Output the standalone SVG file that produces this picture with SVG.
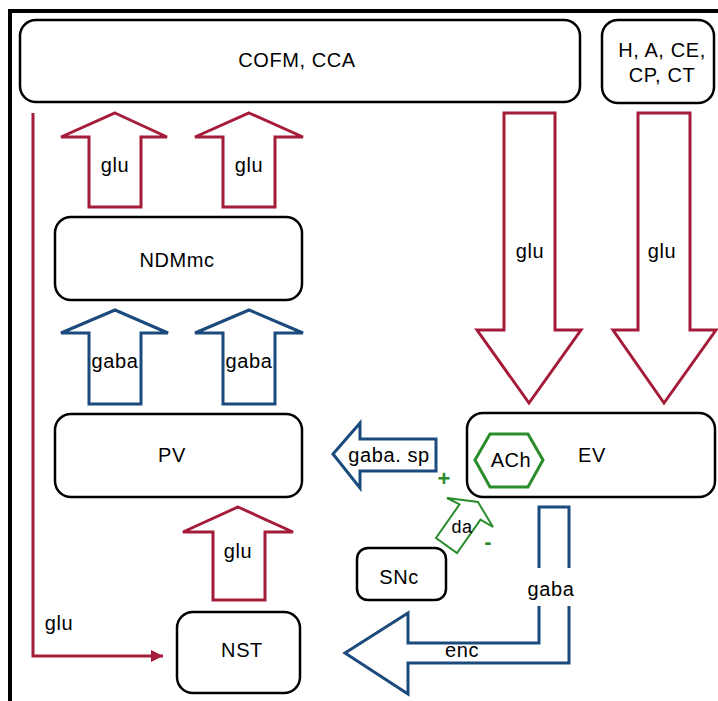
<svg xmlns="http://www.w3.org/2000/svg" width="718" height="701" viewBox="0 0 718 701">
  <style>
    .box { fill: #ffffff; stroke: #000000; stroke-width: 2.5; }
    .lbl { font-family: "Liberation Sans", Arial, sans-serif; font-size: 20px; letter-spacing: 0.6px; fill: #000000; text-anchor: middle; }
    .glu { fill: #ffffff; stroke: #a51c3a; stroke-width: 3; stroke-linejoin: miter; }
    .gaba { fill: #ffffff; stroke: #1b4a7c; stroke-width: 3; stroke-linejoin: miter; }
    .da { fill: #ffffff; stroke: #2b8c2b; stroke-width: 2; }
    .sign { font-family: "Liberation Sans", Arial, sans-serif; font-weight: bold; fill: #2b8c2b; text-anchor: middle; }
  </style>
  <defs>
    <marker id="redHead" viewBox="0 0 10 10" refX="10" refY="5" markerWidth="4.5" markerHeight="4" markerUnits="strokeWidth" orient="auto">
      <path d="M0,0 L10,5 L0,10 Z" fill="#a51c3a"/>
    </marker>
  </defs>

  <rect width="718" height="701" fill="#ffffff"/>
  <!-- frame -->
  <path d="M10,701 V11 H718" fill="none" stroke="#000000" stroke-width="4"/>

  <g id="connectors">
    <!-- long glu line to NST -->
    <path d="M33,113 V656 H163" fill="none" stroke="#a51c3a" stroke-width="3" marker-end="url(#redHead)"/>
    <text class="lbl" x="59" y="630">glu</text>

    <!-- NDMmc -> cortex -->
    <g id="glu-up-1">
      <polygon class="glu" points="115,113 167,137 141,137 141,207 89,207 89,137 61,137"/>
      <text class="lbl" x="115" y="172">glu</text>
    </g>
    <g id="glu-up-2">
      <polygon class="glu" points="249,113 303,137 275,137 275,207 223,207 223,137 195,137"/>
      <text class="lbl" x="249" y="172">glu</text>
    </g>

    <!-- PV -> NDMmc -->
    <g id="gaba-up-1">
      <polygon class="gaba" points="115,310 168,333 141,333 141,404 89,404 89,333 61,333"/>
      <text class="lbl" x="115" y="368">gaba</text>
    </g>
    <g id="gaba-up-2">
      <polygon class="gaba" points="249,310 303,333 275,333 275,404 223,404 223,333 195,333"/>
      <text class="lbl" x="249" y="368">gaba</text>
    </g>

    <!-- NST -> PV -->
    <g id="glu-nst-pv">
      <polygon class="glu" points="238,507 293,532 265,532 265,600 213,600 213,532 183,532"/>
      <text class="lbl" x="238" y="558">glu</text>
    </g>

    <!-- cortex / thalamus -> EV -->
    <g id="glu-down-1">
      <polygon class="glu" points="504,113 555,113 555,330 581,330 529,403 477,330 504,330"/>
      <text class="lbl" x="530" y="258">glu</text>
    </g>
    <g id="glu-down-2">
      <polygon class="glu" points="638,113 690,113 690,330 716,330 664,403 613,330 638,330"/>
      <text class="lbl" x="662" y="258">glu</text>
    </g>

    <!-- EV -> PV -->
    <g id="gaba-sp">
      <polygon class="gaba" points="333,454 360,423 360,439 436,439 436,471 360,471 360,488"/>
      <text class="lbl" x="389" y="462">gaba. sp</text>
    </g>

    <!-- EV -> NST -->
    <g id="gaba-enc">
      <polygon class="gaba" points="539,507 569,507 569,663 408,663 408,694 345,653 408,613 408,643 539,643"/>
      <rect x="526" y="568" width="50" height="38" fill="#ffffff"/>
      <text class="lbl" x="551" y="596">gaba</text>
      <text class="lbl" x="462" y="657">enc</text>
    </g>

    <!-- SNc -> EV -->
    <g id="da">
      <polygon class="da" points="478,502 493,527 480.5,519.6 457,553 436,538 459.5,504.4 447,498"/>
      <text class="lbl" x="462" y="533" style="font-size:18px">da</text>
    </g>
    <text class="sign" x="444" y="486" style="font-size:22px">+</text>
    <text class="sign" x="488" y="549" style="font-size:22px">-</text>
  </g>

  <g id="cofm-cca">
    <rect class="box" x="20" y="20" width="560" height="82" rx="16"/>
    <text class="lbl" x="297" y="67">COFM, CCA</text>
  </g>
  <g id="h-a-ce-cp-ct">
    <rect class="box" x="602" y="20" width="112" height="83" rx="16"/>
    <text class="lbl" x="662" y="57">H, A, CE,</text>
    <text class="lbl" x="662" y="82">CP, CT</text>
  </g>
  <g id="ndmmc">
    <rect class="box" x="55" y="217" width="247" height="83" rx="16"/>
    <text class="lbl" x="177" y="267">NDMmc</text>
  </g>
  <g id="pv">
    <rect class="box" x="55" y="414" width="247" height="83" rx="16"/>
    <text class="lbl" x="172" y="462">PV</text>
  </g>
  <g id="ev">
    <rect class="box" x="467" y="413" width="248" height="84" rx="16"/>
    <text class="lbl" x="592" y="462">EV</text>
    <g id="ach">
      <polygon points="475,460 490,434 528,434 543,460 528,487 490,487" fill="#ffffff" stroke="#2b8c2b" stroke-width="3"/>
      <text class="lbl" x="511" y="467">ACh</text>
    </g>
  </g>
  <g id="snc">
    <rect class="box" x="357" y="548" width="89" height="52" rx="11"/>
    <text class="lbl" x="399" y="584">SNc</text>
  </g>
  <g id="nst">
    <rect class="box" x="177" y="612" width="123" height="81" rx="16"/>
    <text class="lbl" x="242" y="657">NST</text>
  </g>
</svg>
